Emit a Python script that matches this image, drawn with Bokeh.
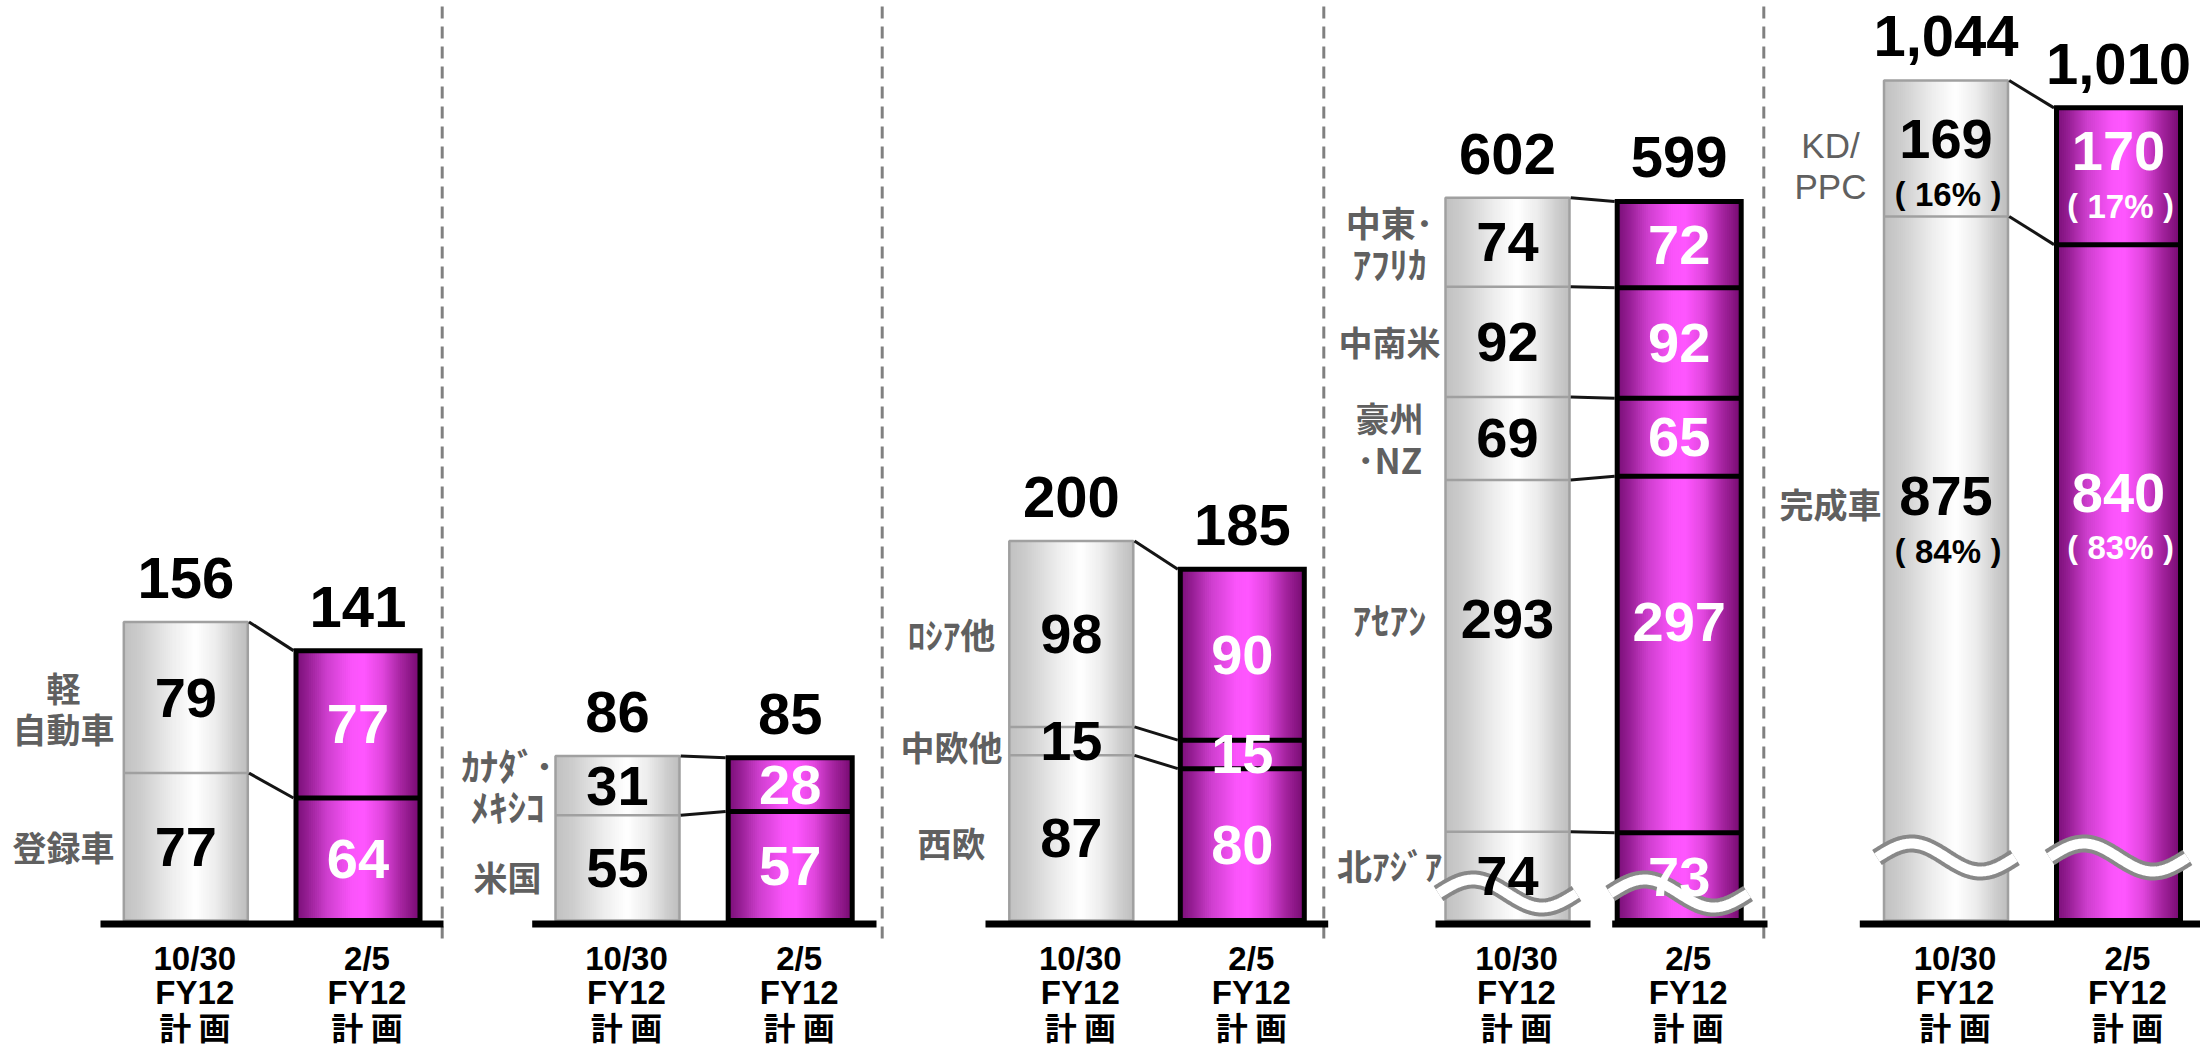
import numpy as np
from bokeh.plotting import figure
from bokeh.models import Range1d
from bokeh.embed import file_html
from bokeh.resources import INLINE
from bokeh.core.properties import value

# ---------------- data ----------------
plan_tick_lines = [["10/30", "FY12", "計 画"], ["2/5", "FY12", "計 画"]]

p1_segments = ["登録車", "軽\n自動車"]
p1_oct = [77, 79]
p1_feb = [64, 77]

p2_segments = ["米国", "ｶﾅﾀﾞ･\nﾒｷｼｺ"]
p2_oct = [55, 31]
p2_feb = [57, 28]

p3_segments = ["西欧", "中欧他", "ﾛｼｱ他"]
p3_oct = [87, 15, 98]
p3_feb = [80, 15, 90]

p4_segments = ["北ｱｼﾞｱ", "ｱｾｱﾝ", "豪州\n･NZ", "中南米", "中東･\nｱﾌﾘｶ"]
p4_oct = [74, 293, 69, 92, 74]
p4_feb = [73, 297, 65, 92, 72]

p5_segments = ["完成車", "KD/\nPPC"]
p5_oct = [875, 169]
p5_feb = [840, 170]
p5_oct_pct = [84, 16]
p5_feb_pct = [83, 17]

panels = [
    dict(segs=p1_segments, old=p1_oct, new=p1_feb, old_pct=None, new_pct=None),
    dict(segs=p2_segments, old=p2_oct, new=p2_feb, old_pct=None, new_pct=None),
    dict(segs=p3_segments, old=p3_oct, new=p3_feb, old_pct=None, new_pct=None),
    dict(segs=p4_segments, old=p4_oct, new=p4_feb, old_pct=None, new_pct=None),
    dict(segs=p5_segments, old=p5_oct, new=p5_feb, old_pct=p5_oct_pct, new_pct=p5_feb_pct),
]

# ---------------- layout / style ----------------
W, H = 2200, 1048
BASE = 920.0
scales = [1.914, 1.914, 1.898, 1.2005, 0.8046]        # px per unit
gray_cx = [185.3, 617.0, 1070.8, 1507.0, 1945.5]
mag_cx = [357.5, 789.7, 1241.8, 1678.7, 2118.0]
cat_x = [63, 507, 951, 1389, 1830]
BAR_W = 124
baseline_spans = [[(100, 443)], [(531.7, 876)], [(985, 1327.7)],
                  [(1435, 1590), (1611.7, 1767)], [(1859.3, 2200)]]
separators = [441.7, 881.7, 1323.3, 1763.3]
wave_px = {3: 27, 4: 63}
value_nudge = {(3, 0, 1): -37, (3, 1, 1): -33, (4, 0, 0): -45, (4, 1, 0): -63,
               (4, 0, 1): 18, (4, 1, 1): 2}
cat_nudge = {(0, 1): 10, (1, 0): 9, (2, 0): 5, (2, 1): 5, (3, 0): -12, (4, 0): -20}

GRAY_STOPS = [(0.00, (192, 192, 192)), (0.15, (206, 206, 206)), (0.40, (238, 238, 238)),
              (0.58, (255, 255, 255)), (0.75, (236, 236, 236)), (0.90, (206, 206, 206)),
              (1.00, (190, 190, 190))]
MAG_STOPS = [(0.00, (120, 14, 118)), (0.10, (150, 30, 148)), (0.25, (205, 62, 205)),
             (0.45, (250, 84, 250)), (0.55, (255, 86, 255)), (0.70, (225, 70, 222)),
             (0.85, (165, 36, 160)), (1.00, (118, 10, 112))]

NUM_FONT = value("Liberation Sans")
JP_FONT = value("Noto Sans CJK JP")


def grad_colors(stops, n):
    ts = (np.arange(n) + 0.5) / n
    st = np.array([s[0] for s in stops])
    rgb = np.array([s[1] for s in stops], dtype=float)
    out = []
    for t in ts:
        r = np.interp(t, st, rgb[:, 0]); g = np.interp(t, st, rgb[:, 1]); b = np.interp(t, st, rgb[:, 2])
        out.append("#%02x%02x%02x" % (int(round(r)), int(round(g)), int(round(b))))
    return out


p = figure(width=W, height=H, x_range=Range1d(0, W), y_range=Range1d(H, 0),
           output_backend="svg", toolbar_location=None, min_border=0,
           x_axis_location=None, y_axis_location=None, outline_line_color=None)
p.grid.visible = False
p.background_fill_color = "white"
p.border_fill_color = "white"

for i, s in enumerate(scales):
    p.extra_y_ranges[f"r{i}"] = Range1d((BASE - H) / s, BASE / s)

# separators
p.segment(x0=separators, x1=separators, y0=6, y1=940, line_color="#808080",
          line_width=3, line_dash="12 8")

NSTRIP = 64


def draw_bar(cx, total, stops, rname):
    edges = np.linspace(cx - BAR_W / 2, cx + BAR_W / 2, NSTRIP + 1)
    cols = grad_colors(stops, NSTRIP)
    p.quad(left=edges[:-1] - 0.4, right=edges[1:] + 0.4, bottom=0, top=total,
           fill_color=cols, line_color=None, y_range_name=rname)


for i, pan in enumerate(panels):
    rn = f"r{i}"
    old, new = pan["old"], pan["new"]
    cum_old = np.cumsum(old); cum_new = np.cumsum(new)
    tot_old, tot_new = cum_old[-1], cum_new[-1]
    gx, mx = gray_cx[i], mag_cx[i]
    # gray bar
    draw_bar(gx, tot_old, GRAY_STOPS, rn)
    p.segment(x0=[gx - BAR_W / 2] * (len(old) - 1), x1=[gx + BAR_W / 2] * (len(old) - 1),
              y0=list(cum_old[:-1]), y1=list(cum_old[:-1]), line_color="#a0a0a0",
              line_width=2.5, y_range_name=rn)
    p.quad(left=gx - BAR_W / 2, right=gx + BAR_W / 2, bottom=0, top=tot_old,
           fill_color=None, line_color="#a0a0a0", line_width=2.5, y_range_name=rn)
    # magenta bar
    draw_bar(mx, tot_new, MAG_STOPS, rn)
    p.segment(x0=[mx - BAR_W / 2] * (len(new) - 1), x1=[mx + BAR_W / 2] * (len(new) - 1),
              y0=list(cum_new[:-1]), y1=list(cum_new[:-1]), line_color="black",
              line_width=5, y_range_name=rn)
    p.quad(left=mx - BAR_W / 2, right=mx + BAR_W / 2, bottom=0, top=tot_new,
           fill_color=None, line_color="black", line_width=5, line_join="miter",
           y_range_name=rn)
    # connectors
    n = len(old)
    p.segment(x0=[gx + BAR_W / 2 + 1.2] * n, x1=[mx - BAR_W / 2 - 2.5] * n,
              y0=list(cum_old), y1=list(cum_new), line_color="#151515", line_width=3,
              y_range_name=rn)

# wave breaks (decoration, page coords)
for i, wpx in wave_px.items():
    yc = BASE - wpx
    for cx in (gray_cx[i], mag_cx[i]):
        xs = np.linspace(cx - BAR_W / 2 - 7, cx + BAR_W / 2 + 7, 80)
        tt = (xs - xs[0]) / (xs[-1] - xs[0])
        ys = yc - 14 * np.sin(2 * np.pi * tt)
        p.line(xs, ys, line_color="#888888", line_width=18)
        p.line(xs, ys, line_color="white", line_width=10)

# baselines
for spans in baseline_spans:
    for (a, b) in spans:
        p.segment(x0=a, x1=b, y0=BASE + 3.5, y1=BASE + 3.5, line_color="black",
                  line_width=7, line_cap="butt")

# texts
for i, pan in enumerate(panels):
    rn = f"r{i}"
    for k, (vals, cx, color, pcts) in enumerate([(pan["old"], gray_cx[i], "black", pan["old_pct"]),
                                                  (pan["new"], mag_cx[i], "white", pan["new_pct"])]):
        cum = np.concatenate([[0], np.cumsum(vals)])
        mids = [(cum[j] + cum[j + 1]) / 2 for j in range(len(vals))]
        nud = [value_nudge.get((i, k, j), 0) for j in range(len(vals))]
        if pcts is None:
            p.text(x=[cx] * len(vals), y=mids, text=[str(v) for v in vals], y_offset=nud,
                   text_font=NUM_FONT, text_font_size="56px", text_font_style="bold",
                   text_color=color, text_align="center", text_baseline="middle",
                   y_range_name=rn)
        else:
            p.text(x=[cx] * len(vals), y=mids, text=[str(v) for v in vals],
                   y_offset=[d - 27 for d in nud],
                   text_font=NUM_FONT, text_font_size="56px", text_font_style="bold",
                   text_color=color, text_align="center", text_baseline="middle",
                   y_range_name=rn)
            p.text(x=[cx + 2] * len(vals), y=mids, text=[f"{q}%" for q in pcts],
                   y_offset=[d + 28 for d in nud],
                   text_font=NUM_FONT, text_font_size="33px", text_font_style="bold",
                   text_color=color, text_align="center", text_baseline="middle",
                   y_range_name=rn)
            for dx, par in ((-46, "("), (50, ")")):
                p.text(x=[cx + dx] * len(vals), y=mids, text=[par] * len(vals),
                       y_offset=[d + 27 for d in nud],
                       text_font=NUM_FONT, text_font_size="32px", text_font_style="bold",
                       text_color=color, text_align="center", text_baseline="middle",
                       y_range_name=rn)
        total = int(cum[-1])
        p.text(x=[cx], y=[total], text=[f"{total:,}"], y_offset=[-44],
               text_font=NUM_FONT, text_font_size="58px", text_font_style="bold",
               text_color="black", text_align="center", text_baseline="middle",
               y_range_name=rn)
    # category labels (aligned with old-plan segments)
    cum = np.concatenate([[0], np.cumsum(pan["old"])])
    for j, lab in enumerate(pan["segs"]):
        mid = (cum[j] + cum[j + 1]) / 2
        base_off = value_nudge.get((i, 0, j), 0) + cat_nudge.get((i, j), 0)
        lines = lab.split("\n")
        nl = len(lines)
        for li, line in enumerate(lines):
            off = base_off + (li - (nl - 1) / 2) * 41
            is_ascii = all(ord(c) < 128 for c in line)
            n_kana = sum(0xFF61 <= ord(c) <= 0xFF9F for c in line)
            if is_ascii:
                fnt, fsz, fst = NUM_FONT, "35px", "normal"
            elif n_kana == len(line):
                fnt, fsz, fst = JP_FONT, "37px", "bold"
            elif n_kana > 0:
                fnt, fsz, fst = JP_FONT, "35px", "bold"
            else:
                fnt, fsz, fst = JP_FONT, "34px", "bold"
            p.text(x=[cat_x[i]], y=[mid], text=[line], y_offset=[off],
                   text_font=fnt, text_font_size=fsz, text_font_style=fst,
                   text_color="#606060", text_align="center", text_baseline="middle",
                   y_range_name=rn)

# x tick labels (page coords)
tick_y = [958, 991.7, 1025]
for i in range(len(panels)):
    for k, cx in enumerate((gray_cx[i], mag_cx[i])):
        for li, line in enumerate(plan_tick_lines[k]):
            jp = any(ord(c) > 255 for c in line)
            p.text(x=[cx + 9], y=[tick_y[li]], text=[line],
                   text_font=JP_FONT if jp else NUM_FONT,
                   text_font_size="32px" if jp else "33px", text_font_style="bold",
                   text_color="black", text_align="center", text_baseline="middle")

open("out.html", "w").write(file_html(p, INLINE))
